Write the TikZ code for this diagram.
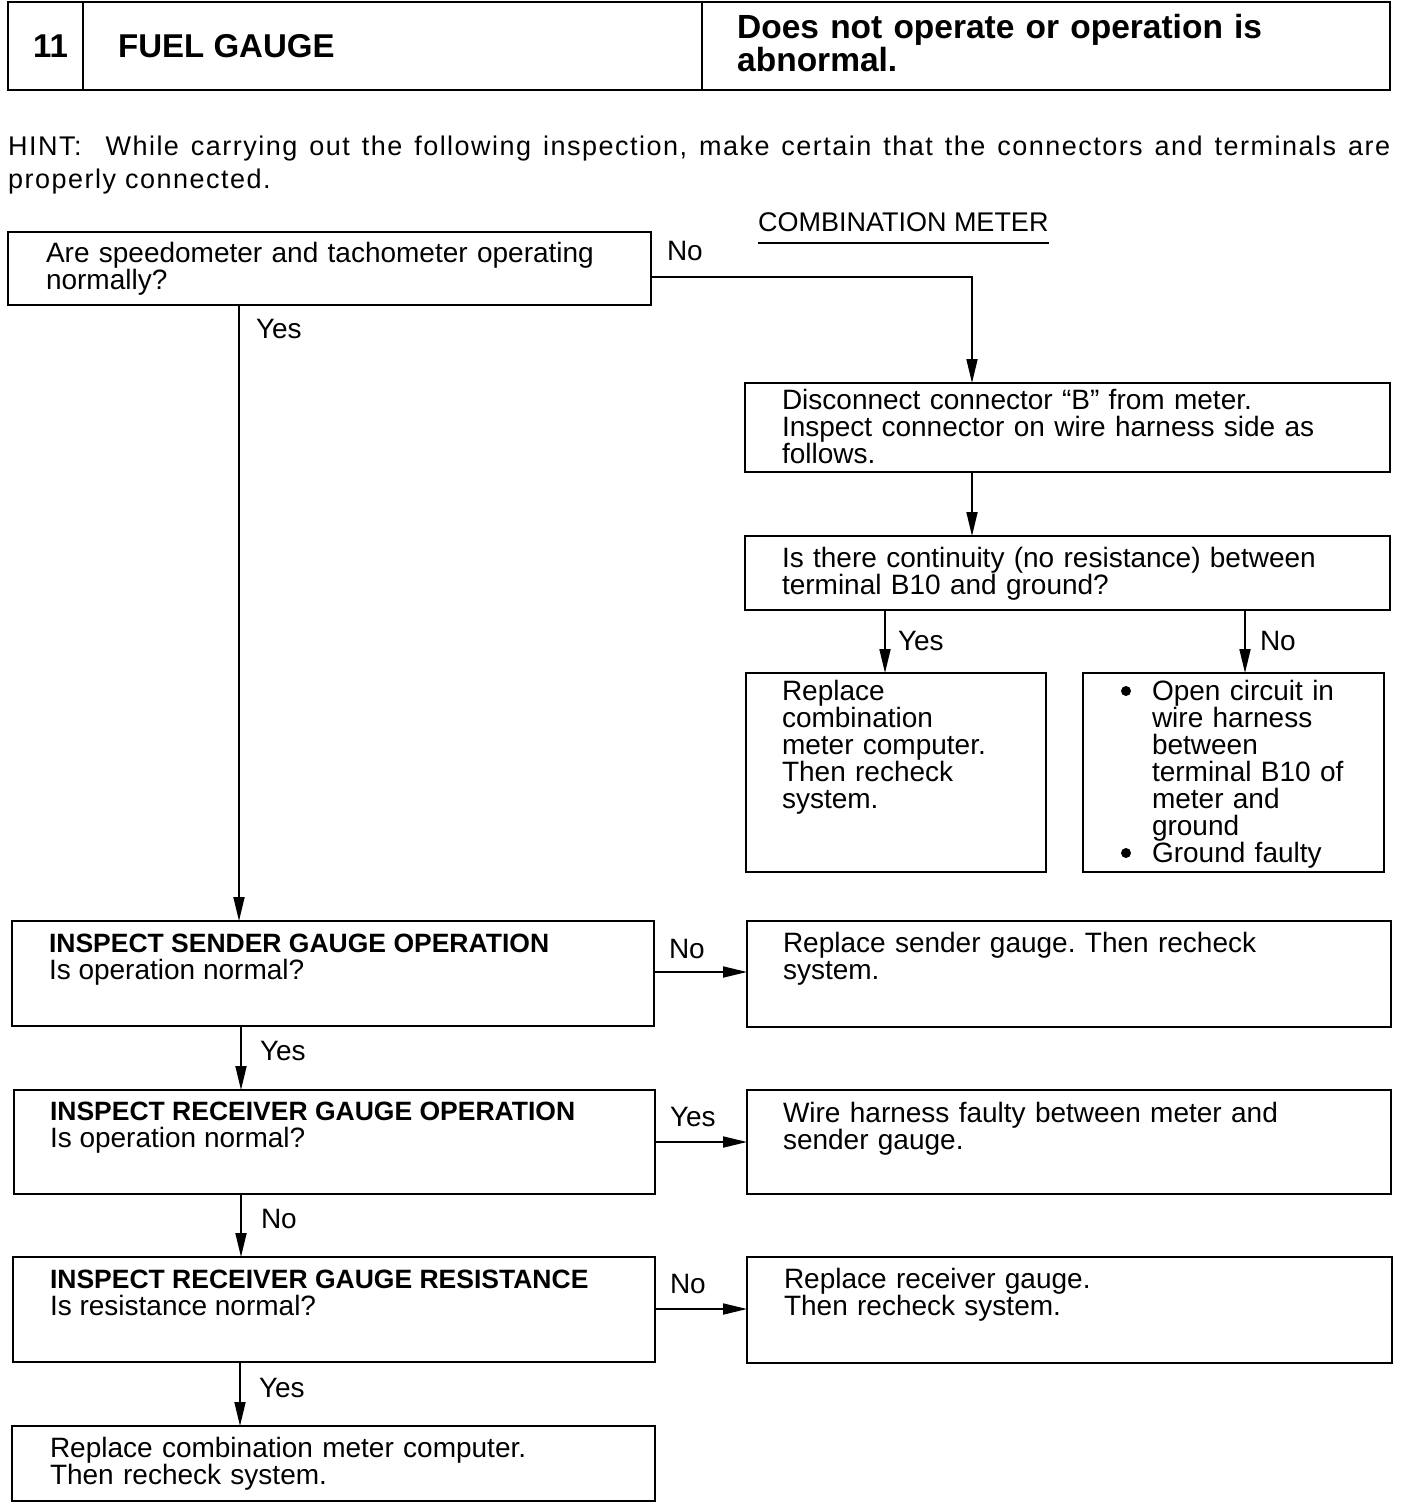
\documentclass[tikz,border=0pt]{standalone}
\usepackage{fontspec}
\setmainfont{Liberation Sans}
\newfontfamily\hintfont[LetterSpace=5.5]{Liberation Sans}
\usetikzlibrary{arrows.meta,calc}
\frenchspacing
\begin{document}
\begin{tikzpicture}[x=1pt,y=-1pt,
  box/.style={draw, line width=2.4pt, inner sep=0pt, outer sep=0pt, anchor=north west},
  txt/.style={anchor=base west, inner sep=0pt, outer sep=0pt, align=left, text width=#1,
    font=\fontsize{28}{27}\selectfont},
  txt/.default=620pt,
  bt/.style={anchor=base west, inner sep=0pt, outer sep=0pt,
    font=\fontsize{26.5}{27}\selectfont\bfseries},
  lbl/.style={anchor=base west, inner sep=0pt, outer sep=0pt, font=\fontsize{28}{27}\selectfont},
  dot/.style={circle, fill, draw=none, inner sep=0pt, minimum size=10pt},
  conn/.style={line width=1.8pt, -{Triangle[length=24pt,width=11pt]}}]
\useasboundingbox (0,0) rectangle (1408,1510);

% header
\node[box, minimum width=1382pt, minimum height=88pt] (hdr) at (8,2) {};
\draw[line width=2.4pt] ($(hdr.north west)+(75,0)$) -- ($(hdr.south west)+(75,0)$);
\draw[line width=2.4pt] ($(hdr.north west)+(694,0)$) -- ($(hdr.south west)+(694,0)$);
\node[anchor=base west, inner sep=0pt, font=\fontsize{33}{33}\selectfont\bfseries] (num) at (33,57) {11};
\node[anchor=base west, inner sep=0pt, font=\fontsize{33}{33}\selectfont\bfseries] (ttl) at (118,57) {FUEL GAUGE};
\node[anchor=base west, inner sep=0pt, align=left, text width=660pt, font=\fontsize{33.5}{33}\selectfont\bfseries] (sub) at (737,38) {Does not operate or operation is\\abnormal.};

% hint
\node[anchor=base west, inner sep=0pt, text width=1382pt, align=justify, font=\hintfont\fontsize{27}{33}\selectfont] (hint) at (8,155)
 {HINT:\ \ While carrying out the following inspection, make certain that the connectors and terminals are\linebreak properly connected.};

% combination meter
\node[lbl, font=\fontsize{27}{27}\selectfont] (cm) at (758,231) {COMBINATION METER};
\draw[line width=1.6pt] ($(cm.base west)+(0,12)$) -- ($(cm.base east)+(0,12)$);

% boxes
\node[box, minimum width=643pt, minimum height=73pt] (b1) at (8,232) {};
\node[box, minimum width=645pt, minimum height=89pt] (b2) at (745,383) {};
\node[box, minimum width=645pt, minimum height=74pt] (b3) at (745,536) {};
\node[box, minimum width=300pt, minimum height=199pt] (b4a) at (746,673) {};
\node[box, minimum width=301pt, minimum height=199pt] (b4b) at (1083,673) {};
\node[box, minimum width=642pt, minimum height=105pt] (b5) at (12,921) {};
\node[box, minimum width=644pt, minimum height=106pt] (r1) at (747,921) {};
\node[box, minimum width=641pt, minimum height=104pt] (b6) at (14,1090) {};
\node[box, minimum width=644pt, minimum height=104pt] (r2) at (747,1090) {};
\node[box, minimum width=642pt, minimum height=105pt] (b7) at (13,1257) {};
\node[box, minimum width=645pt, minimum height=106pt] (r3) at (747,1257) {};
\node[box, minimum width=643pt, minimum height=75pt] (b8) at (12,1426) {};

% texts
\node[txt] (t1) at (46,262) {Are speedometer and tachometer operating\\normally?};
\node[txt] (t2) at (782,409) {Disconnect connector “B” from meter.\\Inspect connector on wire harness side as\\follows.};
\node[txt] (t3) at (782,567) {Is there continuity (no resistance) between\\terminal B10 and ground?};
\node[txt=260pt] (t4a) at (782,700) {Replace\\combination\\meter computer.\\Then recheck\\system.};
\node[dot] (bul1) at (1126,691) {};
\node[dot] (bul2) at (1126,853) {};
\node[txt=230pt] (t4b) at (1152,700) {Open circuit in\\wire harness\\between\\terminal B10 of\\meter and\\ground\\Ground faulty};
\node[bt] (t5h) at (49,952) {INSPECT SENDER GAUGE OPERATION};
\node[lbl] (t5) at (49,979) {Is operation normal?};
\node[txt] (tr1) at (783,952) {Replace sender gauge. Then recheck\\system.};
\node[bt] (t6h) at (50,1120) {INSPECT RECEIVER GAUGE OPERATION};
\node[lbl] (t6) at (50,1147) {Is operation normal?};
\node[txt] (tr2) at (783,1122) {Wire harness faulty between meter and\\sender gauge.};
\node[bt] (t7h) at (50,1288) {INSPECT RECEIVER GAUGE RESISTANCE};
\node[lbl] (t7) at (50,1315) {Is resistance normal?};
\node[txt] (tr3) at (784,1288) {Replace receiver gauge.\\Then recheck system.};
\node[txt] (t8) at (50,1457) {Replace combination meter computer.\\Then recheck system.};

% connector labels
\node[lbl] (l1) at (667,260) {No};
\node[lbl] (l2) at (256,338) {Yes};
\node[lbl] (l3) at (898,650) {Yes};
\node[lbl] (l4) at (1260,650) {No};
\node[lbl] (l5) at (669,958) {No};
\node[lbl] (l6) at (260,1060) {Yes};
\node[lbl] (l7) at (670,1126) {Yes};
\node[lbl] (l8) at (261,1228) {No};
\node[lbl] (l9) at (670,1293) {No};
\node[lbl] (l10) at (259,1397) {Yes};

% connectors
\draw[conn] ($(b1.north east)+(0,45)$) -| ($(b2.north west)+(227,0)$);
\draw[conn] ($(b1.south west)+(231,0)$) -- ($(b5.north west)+(227,0)$);
\draw[conn] ($(b2.south west)+(227,0)$) -- ($(b3.north west)+(227,0)$);
\draw[conn] ($(b3.south west)+(140,0)$) -- ($(b4a.north west)+(139,0)$);
\draw[conn] ($(b3.south west)+(500,0)$) -- ($(b4b.north west)+(162,0)$);
\draw[conn] ($(b5.north east)+(0,51)$) -- ($(r1.north west)+(0,51)$);
\draw[conn] ($(b5.south west)+(229,0)$) -- ($(b6.north west)+(227,0)$);
\draw[conn] ($(b6.north east)+(0,52)$) -- ($(r2.north west)+(0,52)$);
\draw[conn] ($(b6.south west)+(227,0)$) -- ($(b7.north west)+(228,0)$);
\draw[conn] ($(b7.north east)+(0,52)$) -- ($(r3.north west)+(0,52)$);
\draw[conn] ($(b7.south west)+(227,0)$) -- ($(b8.north west)+(228,0)$);
\end{tikzpicture}
\end{document}
